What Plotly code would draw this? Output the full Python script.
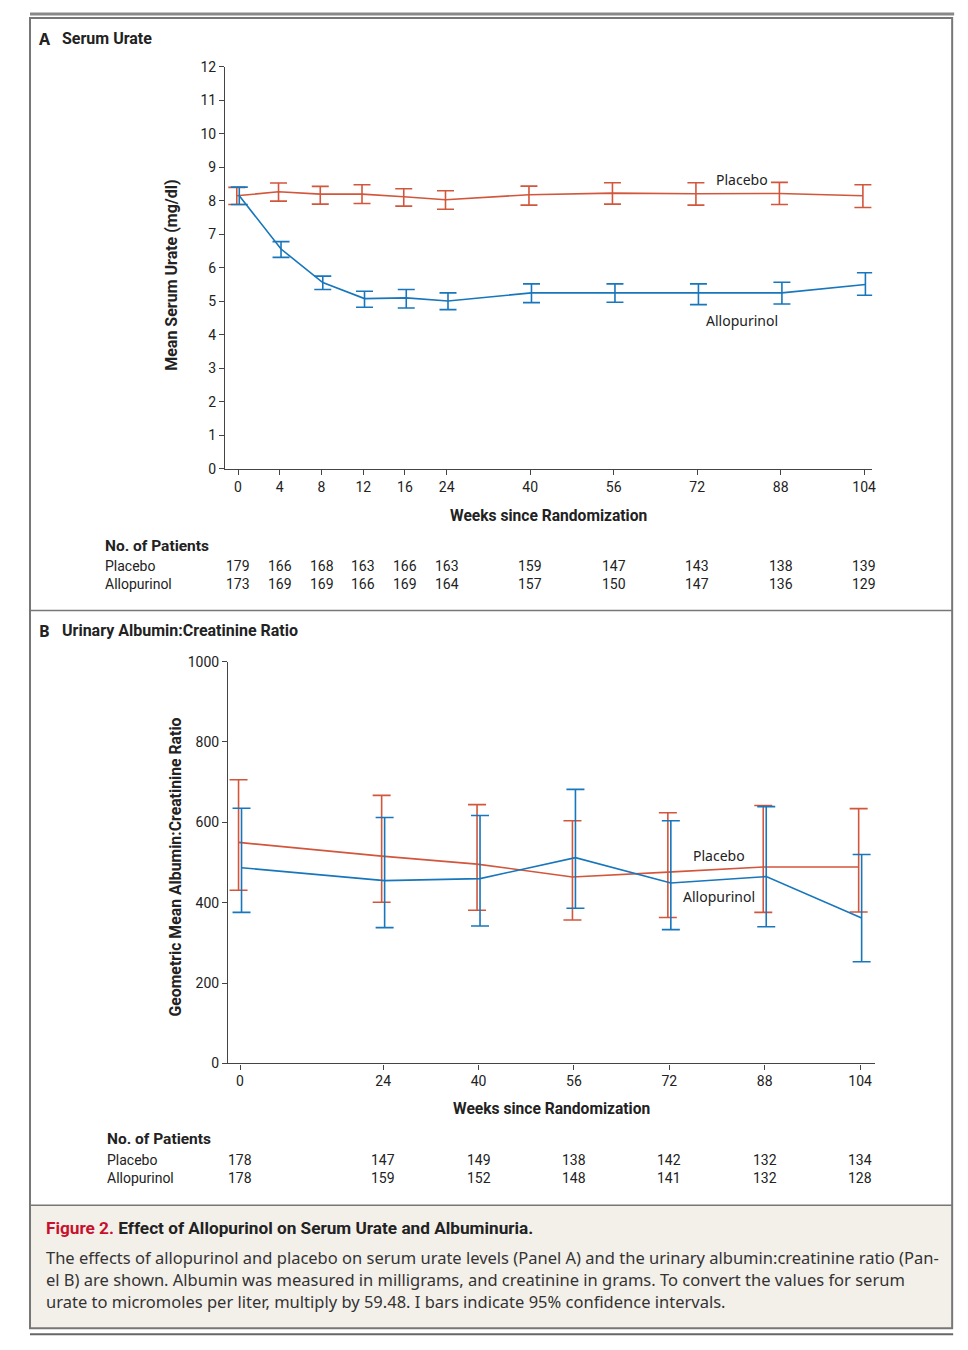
import plotly.graph_objects as go

# ---------------- Data ----------------
weeks_a = [0, 4, 8, 12, 16, 24, 40, 56, 72, 88, 104]
placebo_a = [8.15, 8.27, 8.20, 8.20, 8.12, 8.03, 8.18, 8.23, 8.21, 8.22, 8.15]
placebo_a_lo = [7.89, 7.99, 7.90, 7.92, 7.84, 7.75, 7.87, 7.90, 7.87, 7.89, 7.80]
placebo_a_hi = [8.40, 8.53, 8.43, 8.48, 8.36, 8.30, 8.44, 8.54, 8.54, 8.55, 8.48]
allo_a = [8.15, 6.56, 5.56, 5.08, 5.10, 5.01, 5.25, 5.25, 5.23, 5.25, 5.50]
allo_a_lo = [7.89, 6.31, 5.35, 4.82, 4.80, 4.75, 4.96, 4.97, 4.90, 4.92, 5.18]
allo_a_hi = [8.41, 6.78, 5.75, 5.30, 5.35, 5.25, 5.52, 5.52, 5.52, 5.57, 5.85]
n_placebo_a = [179, 166, 168, 163, 166, 163, 159, 147, 143, 138, 139]
n_allo_a = [173, 169, 169, 166, 169, 164, 157, 150, 147, 136, 129]
yticks_a = list(range(0, 13))

weeks_b = [0, 24, 40, 56, 72, 88, 104]
placebo_b = [550, 516, 496, 464, 476, 489, 489]
placebo_b_lo = [431, 401, 381, 357, 363, 376, 377]
placebo_b_hi = [706, 667, 644, 604, 624, 642, 634]
allo_b = [487, 455, 460, 512, 449, 465, 362]
allo_b_lo = [376, 338, 342, 386, 333, 340, 253]
allo_b_hi = [635, 612, 617, 682, 604, 639, 520]
n_placebo_b = [178, 147, 149, 138, 142, 132, 134]
n_allo_b = [178, 159, 152, 148, 141, 132, 128]
yticks_b = [0, 200, 400, 600, 800, 1000]

# ---------------- Styling ----------------
W, H = 968, 1350
# calibration of the photographed page against layout pixels
SX, SY, OY = 0.9957, 0.9886, 7.1
RED = "#d2563b"
BLUE = "#1776bc"
INK = "#222222"
AXC = "#444444"
NARROW = "Roboto, Liberation Sans, sans-serif"
TEXTF = "Noto Sans, Open Sans, sans-serif"


def PX(x):
    return x / SX


def PY(y):
    return (y - OY) / SY


def px(x):
    return PX(x) / W


def py(y):
    return 1 - PY(y) / H


# Panel A uses a compressed ordinal axis: equal slots up to week 24, double slots after
slots_a = []
for i, w in enumerate(weeks_a):
    slots_a.append(i if w <= 24 else slots_a[-1] + 2)

dodge_a = 0.03
dodge_b = 0.25


def err(mid, lo, hi):
    return dict(type="data", symmetric=False,
                array=[h - m for m, h in zip(mid, hi)],
                arrayminus=[m - l for m, l in zip(mid, lo)])


fig = go.Figure()

fig.add_trace(go.Scatter(
    x=[s - dodge_a for s in slots_a], y=placebo_a, mode="lines",
    line=dict(color=RED, width=1.6),
    error_y=dict(**err(placebo_a, placebo_a_lo, placebo_a_hi), color=RED, thickness=1.6, width=8.5),
    xaxis="x", yaxis="y", showlegend=False, hoverinfo="skip"))
fig.add_trace(go.Scatter(
    x=[s + dodge_a for s in slots_a], y=allo_a, mode="lines",
    line=dict(color=BLUE, width=1.6),
    error_y=dict(**err(allo_a, allo_a_lo, allo_a_hi), color=BLUE, thickness=1.6, width=8.5),
    xaxis="x", yaxis="y", showlegend=False, hoverinfo="skip"))

fig.add_trace(go.Scatter(
    x=[w - dodge_b for w in weeks_b], y=placebo_b, mode="lines",
    line=dict(color=RED, width=1.6),
    error_y=dict(**err(placebo_b, placebo_b_lo, placebo_b_hi), color=RED, thickness=1.6, width=9),
    xaxis="x2", yaxis="y2", showlegend=False, hoverinfo="skip"))
fig.add_trace(go.Scatter(
    x=[w + dodge_b for w in weeks_b], y=allo_b, mode="lines",
    line=dict(color=BLUE, width=1.6),
    error_y=dict(**err(allo_b, allo_b_lo, allo_b_hi), color=BLUE, thickness=1.6, width=9),
    xaxis="x2", yaxis="y2", showlegend=False, hoverinfo="skip"))

axis_common = dict(showline=True, linecolor=AXC, linewidth=1.2, ticks="outside",
                   ticklen=5, tickwidth=1, tickcolor=AXC, showgrid=False, zeroline=False,
                   tickfont=dict(family=NARROW, size=14, color=INK), fixedrange=True)

# axis geometry in target pixels
a_left, a_right, a_top, a_bot = 225, 872, 66, 468
a_x0, a_x1 = 238, 864
b_left, b_right, b_top, b_bot = 228, 875, 661, 1063
b_x0, b_x1 = 240, 860
a_unit = (PX(a_x1) - PX(a_x0)) / slots_a[-1]
b_unit = (PX(b_x1) - PX(b_x0)) / weeks_b[-1]

fig.update_layout(
    width=W, height=H, margin=dict(l=0, r=0, t=0, b=0),
    paper_bgcolor="white", plot_bgcolor="rgba(0,0,0,0)",
    xaxis=dict(axis_common, domain=[px(a_left), px(a_right)],
               range=[(PX(a_left) - PX(a_x0)) / a_unit, (PX(a_right) - PX(a_x0)) / a_unit],
               tickmode="array", tickvals=slots_a, ticktext=[str(w) for w in weeks_a],
               anchor="y"),
    yaxis=dict(axis_common, domain=[py(a_bot), py(a_top)], range=[0, 12],
               tickmode="array", tickvals=yticks_a, anchor="x"),
    xaxis2=dict(axis_common, domain=[px(b_left), px(b_right)],
                range=[(PX(b_left) - PX(b_x0)) / b_unit, (PX(b_right) - PX(b_x0)) / b_unit],
                tickmode="array", tickvals=weeks_b, ticktext=[str(w) for w in weeks_b],
                anchor="y2"),
    yaxis2=dict(axis_common, domain=[py(b_bot), py(b_top)], range=[0, 1000],
                tickmode="array", tickvals=yticks_b, anchor="x2"),
)

ann = []


def txt(x, y, s, size=14, bold=False, family=NARROW, color=INK, xanchor="left",
        xref="paper", angle=0):
    ann.append(dict(x=x if xref != "paper" else px(x), y=py(y), xref=xref, yref="paper",
                    text=f"<b>{s}</b>" if bold else s, showarrow=False,
                    xanchor=xanchor, yanchor="middle", textangle=angle,
                    font=dict(family=family, size=size, color=color)))


txt(37, 38, "A", size=16, bold=True, family=TEXTF)
txt(60, 38, "Serum Urate", size=16, bold=True)
txt(37, 630, "B", size=16, bold=True, family=TEXTF)
txt(60, 630, "Urinary Albumin:Creatinine Ratio", size=16, bold=True)

txt(172, 275, "Mean Serum Urate (mg/dl)", size=16, bold=True, xanchor="center", angle=-90)
txt(175, 867, "Geometric Mean Albumin:Creatinine Ratio", size=15.8, bold=True,
    xanchor="center", angle=-90)
txt(548, 515, "Weeks since Randomization", size=15.6, bold=True, xanchor="center")
txt(551, 1109, "Weeks since Randomization", size=15.6, bold=True, xanchor="center")

txt(742, 179, "Placebo", size=14, family=TEXTF, xanchor="center")
txt(742, 320, "Allopurinol", size=14, family=TEXTF, xanchor="center")
txt(719, 855, "Placebo", size=14, family=TEXTF, xanchor="center")
txt(719, 896, "Allopurinol", size=14, family=TEXTF, xanchor="center")

txt(103, 545, "No. of Patients", size=15.5, bold=True)
txt(103, 565, "Placebo", size=14)
txt(103, 583, "Allopurinol", size=14)
for s, n1, n2 in zip(slots_a, n_placebo_a, n_allo_a):
    txt(s, 565, str(n1), size=14, xanchor="center", xref="x")
    txt(s, 583, str(n2), size=14, xanchor="center", xref="x")

txt(105, 1139, "No. of Patients", size=15.5, bold=True)
txt(105, 1160, "Placebo", size=14)
txt(105, 1178, "Allopurinol", size=14)
for w, n1, n2 in zip(weeks_b, n_placebo_b, n_allo_b):
    txt(w, 1160, str(n1), size=14, xanchor="center", xref="x2")
    txt(w, 1178, str(n2), size=14, xanchor="center", xref="x2")

txt(44, 1228, '<span style="color:#c8102e">Figure 2.</span> Effect of Allopurinol on Serum Urate and Albuminuria.',
    size=17.2, bold=True)
cap_lines = [
    "The effects of allopurinol and placebo on serum urate levels (Panel A) and the urinary albumin:creatinine ratio (Pan-",
    "el B) are shown. Albumin was measured in milligrams, and creatinine in grams. To convert the values for serum",
    "urate to micromoles per liter, multiply by 59.48. I bars indicate 95% confidence intervals.",
]
for i, line in enumerate(cap_lines):
    txt(44, 1257 + 22 * i, line, size=16.5, family=TEXTF, color="#333333")

fig.update_layout(annotations=ann)

shapes = [
    dict(type="rect", xref="paper", yref="paper", x0=px(30), x1=px(952), y0=py(1205), y1=py(1328),
         fillcolor="#f3f0ea", line=dict(width=0), layer="below"),
    dict(type="rect", xref="paper", yref="paper", x0=px(30), x1=px(952), y0=py(1328), y1=py(17),
         line=dict(color="#777777", width=2)),
    dict(type="line", xref="paper", yref="paper", x0=px(30), x1=px(954), y0=py(13), y1=py(13),
         line=dict(color="#888888", width=3)),
    dict(type="line", xref="paper", yref="paper", x0=px(30), x1=px(953), y0=py(1334), y1=py(1334),
         line=dict(color="#666666", width=2)),
    dict(type="line", xref="paper", yref="paper", x0=px(30), x1=px(952), y0=py(610), y1=py(610),
         line=dict(color="#777777", width=1.5)),
    dict(type="line", xref="paper", yref="paper", x0=px(30), x1=px(952), y0=py(1205), y1=py(1205),
         line=dict(color="#777777", width=1.5)),
]
fig.update_layout(shapes=shapes)

fig.write_html("out.html", config={"displayModeBar": False},
               post_script="document.body.style.margin='0';document.body.style.overflow='hidden';")
